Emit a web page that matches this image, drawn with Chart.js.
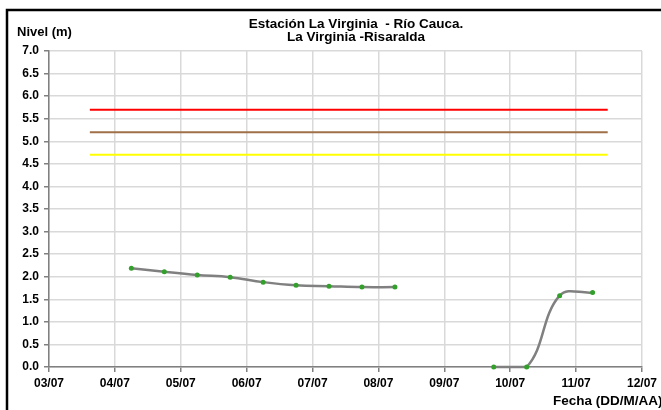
<!DOCTYPE html>
<html>
<head>
	<title>Estacion La Virginia</title>
	<meta charset="utf-8">
	<script src="https://cdn.jsdelivr.net/npm/chart.js@4.4.0/dist/chart.umd.min.js"></script>
	<style>
		body { margin: 0; background: #fff; overflow: hidden; }
	</style>
</head>
<body>

<canvas id="nivel-chart" width="661" height="410"></canvas>

<script>
// etiquetas del eje x (un tick por dia)
var fechas = ["03/07", "04/07", "05/07", "06/07", "07/07", "08/07", "09/07", "10/07", "11/07", "12/07"];
// eje y
var yMin = 0, yMax = 7, yPaso = 0.5;

// lecturas cada 12 h (dias desde 03/07 00:00)
var dias = [1.25, 1.75, 2.25, 2.75, 3.25, 3.75, 4.25, 4.75, 5.25, 5.75, 6.25, 6.75, 7.25, 7.75, 8.25];
var nivel = [2.19, 2.11, 2.04, 1.99, 1.88, 1.81, 1.79, 1.77, 1.77, null, null, 0, 0, 1.58, 1.65];

// umbrales de alerta
var umbrales = [5.7, 5.2, 4.7];
var umbralColores = ["#ff0000", "#a0704a", "#ffff00"];
var umbralDesde = 0.62, umbralHasta = 8.48;

var titulo = ["Estación La Virginia  - Río Cauca.", "La Virginia -Risaralda"];
var tituloY = "Nivel (m)";
var tituloX = "Fecha (DD/M/AA)";

var fuente = '"Liberation Sans", Arial, sans-serif';

var datasets = [];
for (var i = 0; i < umbrales.length; i++) {
  datasets.push({
    data: [{x: umbralDesde, y: umbrales[i]}, {x: umbralHasta, y: umbrales[i]}],
    borderColor: umbralColores[i],
    borderWidth: 2,
    pointRadius: 0,
    tension: 0
  });
}
datasets.push({
  data: dias.map(function(d, k) { return {x: d, y: nivel[k]}; }),
  borderColor: "#808080",
  borderWidth: 2.5,
  pointRadius: 2.5,
  pointBorderWidth: 0,
  pointBackgroundColor: "#33a02c",
  tension: 0.4,
  spanGaps: false,
  clip: false
});

// textos y marco exterior
var extras = {
  id: "extras",
  afterDraw: function(chart) {
    var ctx = chart.ctx;
    ctx.save();
    ctx.strokeStyle = "#000";
    ctx.lineWidth = 2.5;
    ctx.strokeRect(7, 10, 720, 520);
    ctx.fillStyle = "#000";
    ctx.textBaseline = "middle";
    ctx.textAlign = "center";
    ctx.font = "bold 13.5px " + fuente;
    ctx.fillText(titulo[0], 356, 24);
    ctx.fillText(titulo[1], 356, 37);
    ctx.textAlign = "left";
    ctx.font = "bold 13px " + fuente;
    ctx.fillText(tituloY, 17, 32);
    ctx.font = "bold 13.5px " + fuente;
    ctx.fillText(tituloX, 553, 401);
    ctx.restore();
  }
};

new Chart(document.getElementById("nivel-chart"), {
  type: "line",
  data: { datasets: datasets },
  plugins: [extras],
  options: {
    responsive: false,
    animation: false,
    layout: { padding: { left: 0, right: 18, top: 51, bottom: 0 } },
    plugins: {
      legend: { display: false },
      title: { display: false },
      tooltip: { enabled: false }
    },
    scales: {
      x: {
        type: "linear",
        min: 0,
        max: fechas.length - 1,
        afterFit: function(scale) { scale.height = 43; },
        ticks: {
          stepSize: 1,
          padding: 4,
          maxRotation: 0,
          color: "#000",
          font: { family: fuente, size: 12, weight: "bold" },
          callback: function(v) { return fechas[v]; }
        },
        grid: { color: "#d9d9d9", lineWidth: 1.5, tickColor: "#808080", tickLength: 5 },
        border: { color: "#808080", width: 1.5 }
      },
      y: {
        min: yMin,
        max: yMax,
        afterFit: function(scale) { scale.width = 49; },
        ticks: {
          stepSize: yPaso,
          padding: 5,
          color: "#000",
          font: { family: fuente, size: 12, weight: "bold" },
          callback: function(v) { return v.toFixed(1); }
        },
        grid: { color: "#d9d9d9", lineWidth: 1.5, tickColor: "#808080", tickLength: 5 },
        border: { color: "#808080", width: 1.5 }
      }
    }
  }
});
</script>

</body>
</html>
